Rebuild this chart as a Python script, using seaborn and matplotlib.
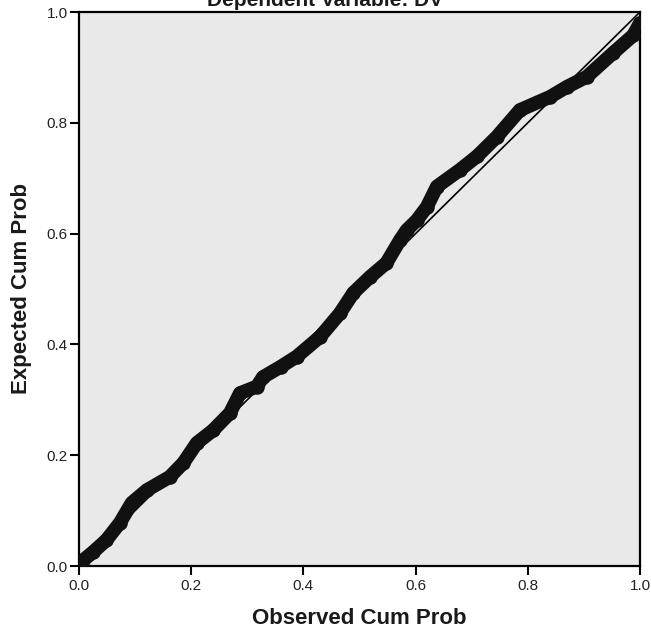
import matplotlib
matplotlib.use("Agg")
import matplotlib.pyplot as plt
import seaborn as sns
import pandas as pd

# Observed vs expected cumulative probabilities
observed = [0.000, 0.007, 0.025, 0.049, 0.073, 0.094, 0.121, 0.162, 0.186, 0.210,
            0.239, 0.269, 0.287, 0.317, 0.328, 0.360, 0.388, 0.430, 0.465, 0.489,
            0.519, 0.548, 0.572, 0.584, 0.602, 0.620, 0.638, 0.679, 0.710, 0.745,
            0.786, 0.840, 0.870, 0.905, 0.952, 0.988, 1.000]
expected = [0.000, 0.010, 0.025, 0.047, 0.078, 0.114, 0.137, 0.161, 0.186, 0.222,
            0.245, 0.276, 0.312, 0.324, 0.341, 0.360, 0.378, 0.414, 0.456, 0.493,
            0.522, 0.547, 0.588, 0.606, 0.624, 0.648, 0.685, 0.715, 0.740, 0.775,
            0.823, 0.847, 0.865, 0.883, 0.926, 0.958, 0.980]
ref_line = [0.0, 1.0]
ticks = [0.0, 0.2, 0.4, 0.6, 0.8, 1.0]
tick_labels = ["0.0", "0.2", "0.4", "0.6", "0.8", "1.0"]
title = "Dependent Variable: DV"
xlabel = "Observed Cum Prob"
ylabel = "Expected Cum Prob"

df = pd.DataFrame({"observed": observed, "expected": expected})
ref = pd.DataFrame({"x": ref_line, "y": ref_line})

sns.set_style("ticks")
plt.rcParams["font.family"] = ["Liberation Sans", "DejaVu Sans"]

fig = plt.figure(figsize=(6.51, 6.40), dpi=100)
fig.patch.set_facecolor("white")
ax = fig.add_axes([79 / 651, 1 - 566 / 640, 561 / 651, 554 / 640])
ax.set_facecolor("#e9e9e9")

# reference diagonal
sns.lineplot(data=ref, x="x", y="y", ax=ax, color="black", linewidth=1.2,
             zorder=2, sort=False)
# observed points (heavy band of open circles)
sns.lineplot(data=df, x="observed", y="expected", ax=ax, color="#111111",
             linewidth=10, sort=False, zorder=3, solid_capstyle="round",
             solid_joinstyle="round")
sns.scatterplot(data=df, x="observed", y="expected", ax=ax, s=80,
                facecolor="#111111", edgecolor="#111111", linewidth=1.5,
                zorder=4)

ax.set_xlim(0, 1)
ax.set_ylim(0, 1)
ax.set_xticks(ticks)
ax.set_xticklabels(tick_labels)
ax.set_yticks(ticks)
ax.set_yticklabels(tick_labels)
ax.tick_params(axis="both", direction="out", length=6.5, width=1.5,
               labelsize=11, colors="black")
ax.tick_params(axis="x", pad=3)
ax.tick_params(axis="y", pad=1.5)
for lab in ax.get_xticklabels() + ax.get_yticklabels():
    lab.set_color("#222222")
for s in ax.spines.values():
    s.set_linewidth(1.6)
    s.set_color("black")

ax.set_xlabel(xlabel, fontsize=16, fontweight="bold", color="#1a1a1a")
ax.set_ylabel(ylabel, fontsize=16, fontweight="bold", color="#1a1a1a")
ax.xaxis.set_label_coords(0.5, -42 / 554)
ax.yaxis.set_label_coords(-47 / 561, 0.5)

fig.text(325 / 651, 1 - 6 / 640, title, ha="center", va="baseline",
         fontsize=15, fontweight="bold", color="#1a1a1a")

fig.savefig("out.png", dpi=100, facecolor="white")
